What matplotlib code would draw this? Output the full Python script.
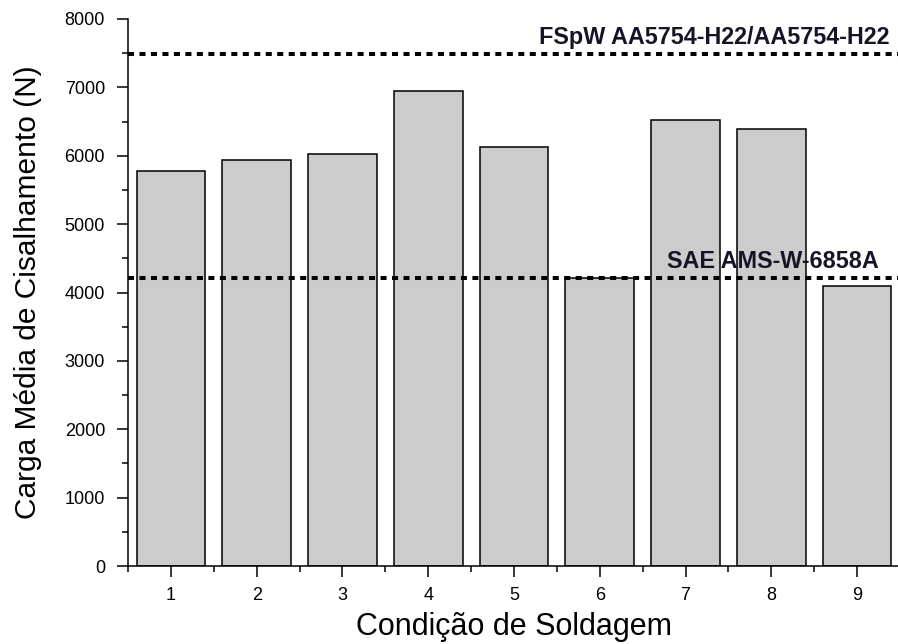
import numpy as np
import matplotlib.pyplot as plt
from matplotlib.ticker import MultipleLocator

plt.rcParams['font.family'] = ['Liberation Sans', 'DejaVu Sans']

condicao = [1, 2, 3, 4, 5, 6, 7, 8, 9]
carga = [5780, 5940, 6025, 6945, 6130, 4210, 6525, 6390, 4095]

ref_fspw = 7490
ref_sae = 4210
txt_fspw = "FSpW AA5754-H22/AA5754-H22"
txt_sae = "SAE AMS-W-6858A"

fig = plt.figure(figsize=(8.98, 6.44), dpi=100)
ax = fig.add_axes([0.1425, 0.1211, 0.8597, 0.8494])

ax.bar(condicao, carga, width=0.8, color="#cccccc", edgecolor="black", linewidth=1.1, zorder=2)

# linhas de referencia pontilhadas
for ref in (ref_fspw, ref_sae):
    ax.axhline(ref, color="black", lw=2.9, ls=(0, (1.5, 1.35)),
               dash_capstyle="butt", zorder=3)
ax.text(0.987, ref_fspw + 145, txt_fspw, transform=ax.get_yaxis_transform(),
        ha="right", va="baseline", fontsize=16.8, fontweight="bold", color="#151525")
ax.text(0.973, ref_sae + 145, txt_sae, transform=ax.get_yaxis_transform(),
        ha="right", va="baseline", fontsize=16.8, fontweight="bold", color="#151525")

ax.set_xlim(0.5, 9.5)
ax.set_ylim(0, 8000)
ax.xaxis.set_major_locator(MultipleLocator(1))
ax.xaxis.set_minor_locator(MultipleLocator(0.5))
ax.yaxis.set_major_locator(MultipleLocator(1000))
ax.yaxis.set_minor_locator(MultipleLocator(500))
ax.tick_params(which="major", direction="out", length=8, width=1.1, labelsize=13)
ax.tick_params(which="minor", direction="out", length=4.5, width=1.1)
ax.tick_params(axis="y", which="major", pad=8.5)
ax.tick_params(axis="x", which="major", pad=7)

for s in ["top", "right"]:
    ax.spines[s].set_visible(False)
for s in ["left", "bottom"]:
    ax.spines[s].set_linewidth(1.1)

ax.set_xlabel("Condição de Soldagem", fontsize=22, labelpad=6)
ax.set_ylabel("Carga Média de Cisalhamento (N)", fontsize=21.5, labelpad=16)

fig.savefig("out.png", dpi=100)
